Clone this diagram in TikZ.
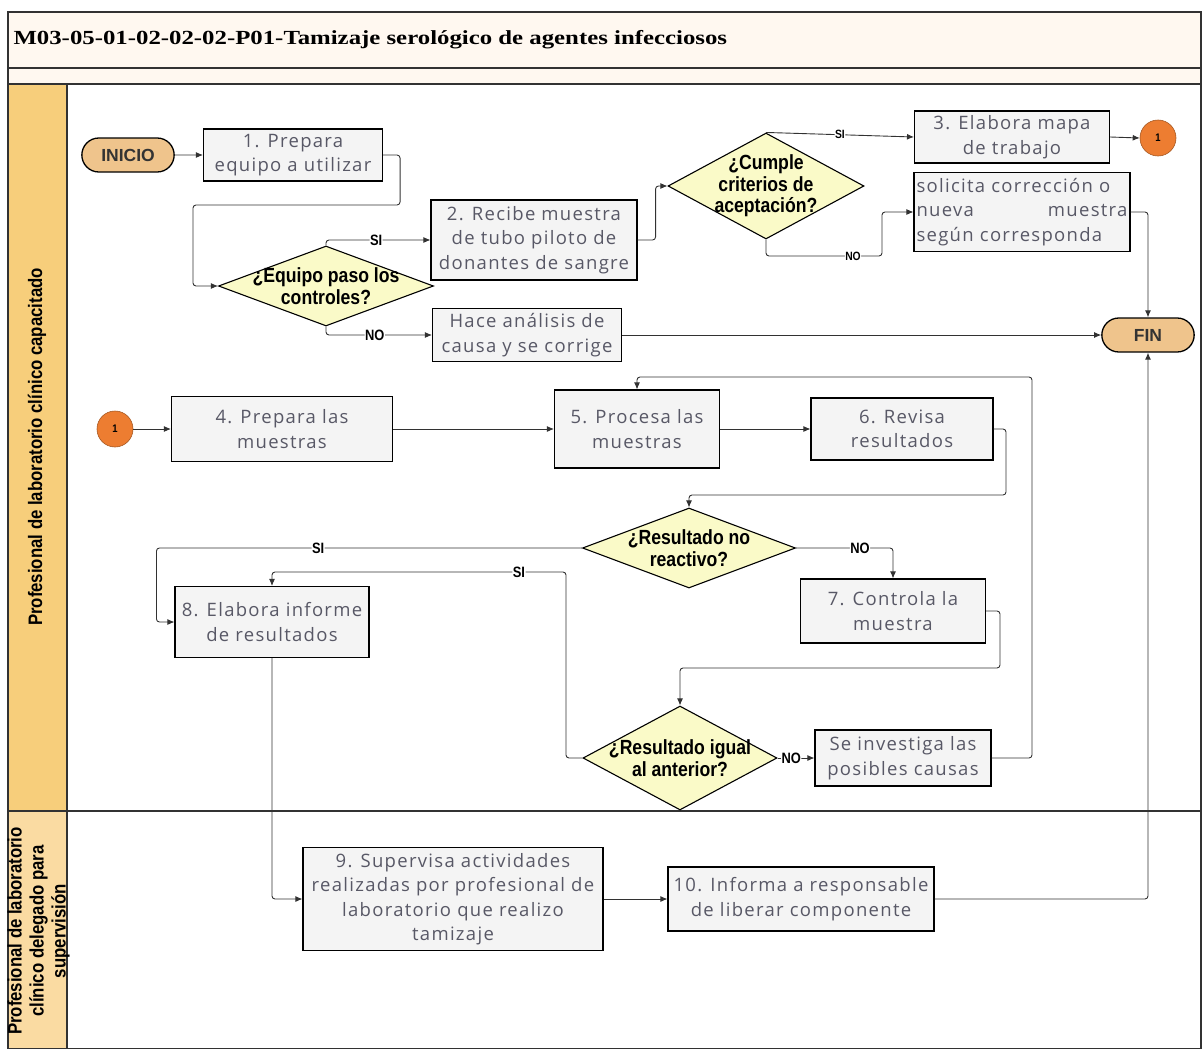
\documentclass[tikz,border=0pt]{standalone}
\usepackage{fontspec}
\setmainfont{Open Sans}
\newfontfamily\cajafont[LetterSpace=7]{Open Sans}
\newfontfamily\titulofont[FakeStretch=1.24]{Liberation Serif}
\newfontfamily\decfont[FakeStretch=0.86]{Liberation Sans}
\newfontfamily\termfont{Liberation Sans}
\usepackage{xcolor}
\definecolor{crema}{RGB}{255,248,240}
\definecolor{carril}{RGB}{247,206,123}
\definecolor{carrilb}{RGB}{250,219,162}
\definecolor{terminal}{RGB}{239,196,140}
\definecolor{rombo}{RGB}{250,250,200}
\definecolor{naranja}{RGB}{237,125,49}
\definecolor{cajagris}{RGB}{244,244,244}
\definecolor{txtgris}{RGB}{88,88,102}
\definecolor{linea}{RGB}{50,50,50}
\usetikzlibrary{calc, positioning, shapes.geometric, shapes.misc, arrows.meta}

\begin{document}
\begin{tikzpicture}[x=1pt, y=-1pt,
  caja/.style={rectangle, draw=black, fill=cajagris, line width=1.1pt, text=txtgris, font=\cajafont\fontsize{18.5}{24.5}\selectfont, align=center, inner sep=1pt},
  decision/.style={diamond, draw=black, fill=rombo, line width=1.1pt, inner sep=0pt},
  dectxt/.style={font=\decfont\bfseries\fontsize{20.5}{21.5}\selectfont, align=center, text=black},
  terminal/.style={rounded rectangle, draw=black, fill=terminal, line width=1.3pt, minimum width=99pt, minimum height=34pt, font=\termfont\bfseries\fontsize{17.5}{17.5}\selectfont, text=black!80},
  conector/.style={circle, draw=naranja!70!black, fill=naranja, line width=0.6pt, minimum size=36pt, inner sep=0pt, font=\decfont\bfseries\fontsize{11}{11}\selectfont},
  flecha/.style={-{Latex[length=7pt,width=6pt]}, draw=linea, line width=0.9pt, rounded corners=3pt},
  etq/.style={font=\decfont\bfseries\fontsize{15}{15}\selectfont, fill=white, inner sep=0.5pt, text=black},
  etqs/.style={etq, font=\decfont\bfseries\fontsize{12}{12}\selectfont},
  carriltxt/.style={rotate=90, font=\decfont\bfseries\fontsize{19.5}{22}\selectfont, align=center, text=black}
]
  \useasboundingbox (0,0) rectangle (1203,1049);

  % marco, titulo y carriles
  \fill[crema] (8,12) rectangle (1201,84);
  \fill[carril] (8,84) rectangle (67,811);
  \fill[carrilb] (8,811) rectangle (67,1048.5);
  \draw[line width=1.1pt, linea] (8,12) rectangle (1201,1048.5);
  \draw[line width=1.1pt, linea] (8,68) -- (1201,68);
  \draw[line width=1.1pt, linea] (8,84) -- (1201,84);
  \draw[line width=1.1pt, linea] (8,811) -- (1201,811);
  \draw[line width=1.1pt, linea] (67,84) -- (67,1048.5);

  \node[anchor=west, font=\titulofont\bfseries\fontsize{20}{22}\selectfont] (titulo) at (10,40) {M03-05-01-02-02-02-P01-Tamizaje serológico de agentes infecciosos};
  \node[carriltxt] (carril1) at (37,447) {Profesional de laboratorio clínico capacitado};
  \node[carriltxt] (carril2) at (38.5,931) {Profesional de laboratorio\\clínico delegado para\\supervisión};

  % nodos
  \node[terminal] (inicio) at (128,155) {INICIO};
  \node[caja, minimum width=179pt, minimum height=52pt] (p1) at (293,155) {1. Prepara\\equipo a utilizar};
  \node[decision, minimum width=215pt, minimum height=80pt, label={[dectxt]center:¿Equipo paso los\\controles?}] (dEq) at (326,286) {};
  \node[caja, minimum width=206pt, minimum height=80pt] (p2) at (534,240) {2. Recibe muestra\\de tubo piloto de\\donantes de sangre};
  \node[caja, minimum width=189pt, minimum height=53pt] (hace) at (527,335) {Hace análisis de\\causa y se corrige};
  \node[decision, minimum width=196pt, minimum height=106pt, label={[dectxt]center:¿Cumple\\criterios de\\aceptación?}] (dCu) at (766,186) {};
  \node[caja, minimum width=195pt, minimum height=52pt] (p3) at (1012,137) {3. Elabora mapa\\de trabajo};
  \node[conector] (c1a) at (1158,138) {1};
  \node[caja, minimum width=216pt, minimum height=79pt, align=left, text width=211pt] (sol) at (1022,212) {solicita corrección o\\nueva\hfill muestra\\según corresponda};
  \node[terminal] (fin) at (1148,335) {FIN};

  \node[conector] (c1b) at (115,429) {1};
  \node[caja, minimum width=221pt, minimum height=65pt] (p4) at (282,429) {4. Prepara las\\muestras};
  \node[caja, minimum width=165pt, minimum height=78pt] (p5) at (637,429) {5. Procesa las\\muestras};
  \node[caja, minimum width=182pt, minimum height=62pt] (p6) at (902,429) {6. Revisa\\resultados};
  \node[decision, minimum width=213pt, minimum height=80pt, label={[dectxt]center:¿Resultado no\\reactivo?}] (dRes1) at (689,548) {};
  \node[caja, minimum width=185pt, minimum height=64pt] (p7) at (893,611) {7. Controla la\\muestra};
  \node[caja, minimum width=194pt, minimum height=71pt] (p8) at (272,622) {8. Elabora informe\\de resultados};
  \node[decision, minimum width=194pt, minimum height=104pt, label={[dectxt]center:¿Resultado igual\\al anterior?}] (dRes2) at (680,758) {};
  \node[caja, minimum width=176pt, minimum height=56pt] (inv) at (903,758) {Se investiga las\\posibles causas};

  \node[caja, minimum width=300pt, minimum height=103pt] (p9) at (453,899) {9. Supervisa actividades\\realizadas por profesional de\\laboratorio que realizo\\tamizaje};
  \node[caja, minimum width=266pt, minimum height=64pt] (p10) at (801,899) {10. Informa a responsable\\de liberar componente};

  % conectores
  \draw[flecha] (inicio) -- (p1);
  \draw[flecha] (p1.east) -- ++(17,0) |- (193,205) |- (dEq.west);
  \draw[flecha] (dEq.north) |- node[etq, pos=0.74] {SI} (p2.west);
  \draw[flecha] (dEq.south) |- node[etq, pos=0.73] {NO} (hace.west);
  \draw[flecha] (hace.east) -- (fin.west);
  \draw[flecha] (p2.east) -- ++(18,0) |- (dCu.west);
  \draw[flecha] (dCu.north) -- node[etqs, pos=0.5] {SI} (p3.west);
  \draw[flecha] (dCu.south) |- node[etqs, pos=0.875] {NO} (882,256) |- (sol.west);
  \draw[flecha] (p3.east) -- (c1a.west);
  \draw[flecha] (sol.east) -| (fin.north);

  \draw[flecha] (c1b.east) -- (p4.west);
  \draw[flecha] (p4.east) -- (p5.west);
  \draw[flecha] (p5.east) -- (p6.west);
  \draw[flecha] (p6.east) -| (1006,495) -| (dRes1.north);
  \draw[flecha] (dRes1.west) -| node[etq, pos=0.31] {SI} ($(p8.west)+(-18,0)$) -- (p8.west);
  \draw[flecha] (dRes1.east) -| node[etq, pos=0.33] {NO} (p7.north);
  \draw[flecha] (p7.east) -| (1000,668) -| (dRes2.north);
  \draw[flecha] (dRes2.west) -| (566,572) -| node[etq, pos=0.08] {SI} (p8.north);
  \draw[flecha] (dRes2.east) -- node[etq, pos=0.37] {NO} (inv.west);
  \draw[flecha] (inv.east) -| (1032,377) -| (p5.north);

  \draw[flecha] (p8.south) |- (p9.west);
  \draw[flecha] (p9.east) -- (p10.west);
  \draw[flecha] (p10.east) -| (fin.south);
\end{tikzpicture}
\end{document}
